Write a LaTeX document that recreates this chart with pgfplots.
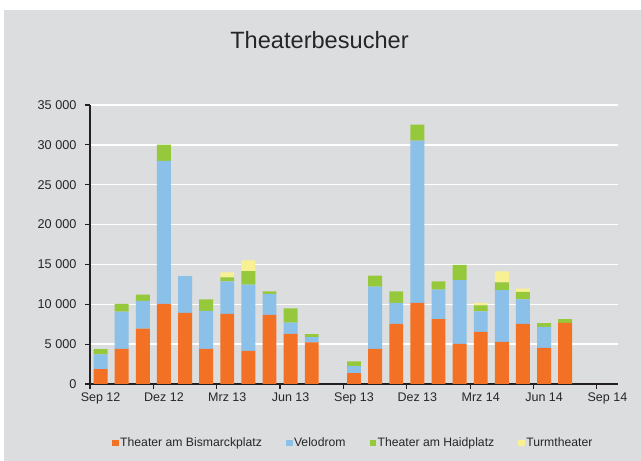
\documentclass[border=0pt]{standalone}
\usepackage{fontspec}
\setmainfont{Liberation Sans}
\usepackage{pgfplots}
\pgfplotsset{compat=1.18}
\usepackage{pgfplotstable}
\definecolor{bgc}{HTML}{DCDDDF}
\definecolor{txt}{HTML}{262626}
\definecolor{axc}{HTML}{231F20}
\definecolor{cor}{HTML}{F37124}
\definecolor{cbl}{HTML}{8BC0E8}
\definecolor{cgr}{HTML}{96C83C}
\definecolor{cye}{HTML}{F8F194}

\pgfplotstableread{
i  o     b     g    t
0  1875  1833  667  0
1  4417  4667  958  0
2  6958  3458  792  0
3  10042 17958 2042 0
4  8917  4625  0    0
5  4417  4750  1458 0
6  8792  4083  500  625
7  4167  8292  1708 1333
8  8667  2625  333  0
9  6292  1417  1792 0
10 5208  667   375  0
12 1375  875   583  0
13 4417  7792  1375 0
14 7542  2625  1458 0
15 10167 20375 2000 0
16 8125  3708  1042 0
17 5042  8000  1917 0
18 6542  2583  750  292
19 5292  6500  958  1375
20 7542  3083  917  417
21 4542  2625  458  0
22 7667  0     458  0
}\data

\begin{document}
\begin{tikzpicture}
\fill[white] (0pt,0pt) rectangle (641pt,461pt);
\fill[bgc] (4pt,0pt) rectangle (641pt,451pt);
\node[anchor=base, font=\fontsize{23.6}{27}\selectfont, text=txt] at (319.5pt,412.7pt) {Theaterbesucher};
\begin{axis}[
  at={(90pt,77pt)}, anchor=south west,
  scale only axis, width=528pt, height=279pt,
  xmin=-0.5, xmax=24.5, ymin=0, ymax=35000,
  axis lines=left,
  axis line style={-, line width=1.2pt, draw=axc},
  ybar stacked, bar width=0.66,
  ytick={0,5000,...,35000},
  ymajorgrids,
  grid style={white, line width=1.5pt},
  tick align=outside,
  major tick length=5pt,
  tick style={draw=axc, line width=1.2pt},
  xtick={-0.5,2.5,...,23.5},
  xticklabels={Sep 12,Dez 12,Mrz 13,Jun 13,Sep 13,Dez 13,Mrz 14,Jun 14,Sep 14},
  xticklabel style={xshift=10.56pt, font=\fontsize{12.5}{15}\selectfont, text=txt},
  yticklabel style={xshift=-5pt, font=\fontsize{12.7}{15}\selectfont, text=txt,
    /pgf/number format/.cd, 1000 sep={\hspace{0.278em}}, assume math mode=true},
  scaled y ticks=false,
  legend columns=4,
  legend style={at={(0.498,-0.2115)}, anchor=center, draw=none, fill=none,
    font=\fontsize{12.2}{14}\selectfont, text=txt,
    nodes={inner sep=1.2pt},
    /tikz/every even column/.append style={column sep=23pt}},
  legend image code/.code={\fill[#1] (0pt,-3.3pt) rectangle (6.7pt,3.3pt);},
]
\addplot[fill=cor, draw=none] table[x=i, y=o] {\data};
\addplot[fill=cbl, draw=none] table[x=i, y=b] {\data};
\addplot[fill=cgr, draw=none] table[x=i, y=g] {\data};
\addplot[fill=cye, draw=none] table[x=i, y=t] {\data};
\legend{Theater am Bismarckplatz, Velodrom, Theater am Haidplatz, Turmtheater}
\end{axis}
\pgfresetboundingbox
\useasboundingbox (0pt,0pt) rectangle (641pt,461pt);
\end{tikzpicture}
\end{document}
